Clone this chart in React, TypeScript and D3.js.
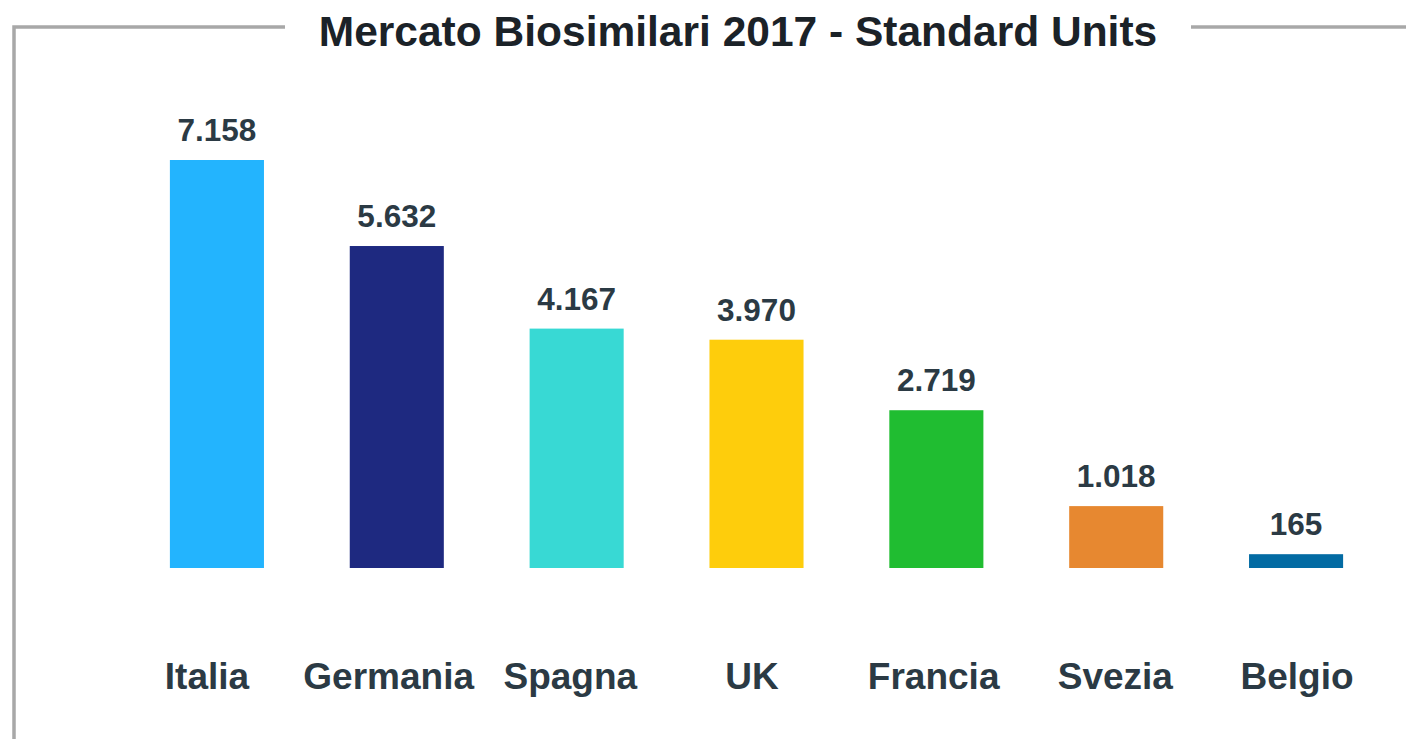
import React from "react";
import * as d3 from "d3";

const categories = ["Italia", "Germania", "Spagna", "UK", "Francia", "Svezia", "Belgio"];
const values = [7158, 5632, 4167, 3970, 2719, 1018, 165];
const valueLabels = ["7.158", "5.632", "4.167", "3.970", "2.719", "1.018", "165"];
const colors = ["#23b4fe", "#1e2980", "#38d9d4", "#fecd0c", "#20bd31", "#e78830", "#036ba3"];
const title = "Mercato Biosimilari 2017 - Standard Units";
const axisMin = -80;

const W = 1406;
const H = 739;
const FONT = "'Liberation Sans', Arial, Helvetica, sans-serif";

export default function App() {
  const x = d3
    .scaleBand<string>()
    .domain(categories)
    .range([127, 1386])
    .paddingInner(0.477)
    .paddingOuter(0.2385);
  // category axis labels sit on a slightly different spacing than the bars
  const xLabel = d3.scalePoint<string>().domain(categories).range([207, 1297]);
  const y = d3.scaleLinear().domain([axisMin, 7158]).range([568, 160]);
  const base = y(axisMin);

  return (
    <svg
      width={W}
      height={H}
      style={{ position: "absolute", left: 0, top: 0, background: "#fff" }}
    >
      {/* frame */}
      <g stroke="#a8a8a8" strokeWidth={3.5} fill="none">
        <path d={`M14,${H} L14,27 L285,27`} />
        <path d={`M1191,27 L${W},27`} />
      </g>
      <text
        x={738}
        y={46}
        textAnchor="middle"
        fontFamily={FONT}
        fontWeight="bold"
        fontSize={42.5}
        fill="#1b2228"
      >
        {title}
      </text>
      {categories.map((c, i) => {
        const bx = x(c)!;
        const bw = x.bandwidth();
        const top = y(values[i]);
        return (
          <g key={c}>
            <rect x={bx} y={top} width={bw} height={base - top} fill={colors[i]} />
            <text
              x={bx + bw / 2}
              y={top - 19}
              textAnchor="middle"
              fontFamily={FONT}
              fontWeight="bold"
              fontSize={31.5}
              fill="#2b3a44"
            >
              {valueLabels[i]}
            </text>
            <text
              x={xLabel(c)!}
              y={689}
              textAnchor="middle"
              fontFamily={FONT}
              fontWeight="bold"
              fontSize={37}
              fill="#2b3a44"
            >
              {c}
            </text>
          </g>
        );
      })}
    </svg>
  );
}
